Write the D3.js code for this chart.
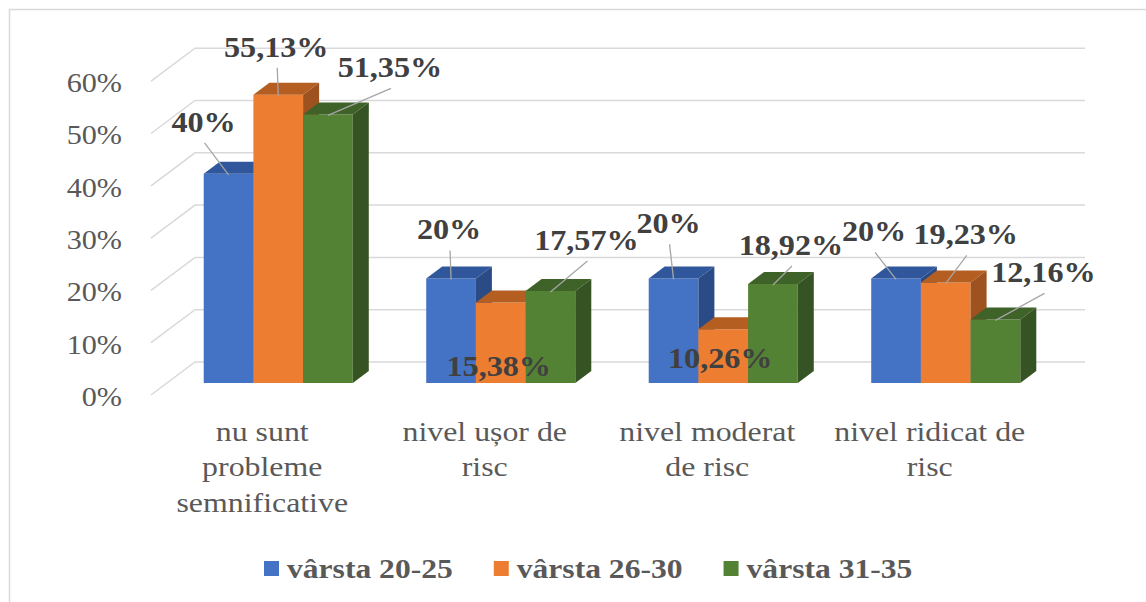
<!DOCTYPE html>
<html>
<head>
<meta charset="utf-8">
<script src="https://cdn.jsdelivr.net/npm/d3@7"></script>
<style>
  body { margin: 0; background: #fff; }
</style>
</head>
<body>
<script>
// chart data
var categories = ["nu sunt\nprobleme\nsemnificative", "nivel ușor de\nrisc", "nivel moderat\nde risc", "nivel ridicat de\nrisc"];
var seriesNames = ["vârsta 20-25", "vârsta 26-30", "vârsta 31-35"];
var values2025 = [40, 20, 20, 20];
var values2630 = [55.13, 15.38, 10.26, 19.23];
var values3135 = [51.35, 17.57, 18.92, 12.16];
var yTicks = [0, 10, 20, 30, 40, 50, 60];

var seriesValues = [values2025, values2630, values3135];
var colors = [
    {front: "#4472C4", top: "#30579B", side: "#2A4B86"},
    {front: "#ED7D31", top: "#B55E22", side: "#9D521F"},
    {front: "#548235", top: "#3F6229", side: "#365423"}
];

// where each data label sits, relative to the bar's front top edge (dx, dy to baseline), and if it has a leader
var labelOffsets = [
    [[-25, -42, 1], [-2, -39, 1], [-5, -45, 1], [-22, -37, 1]],
    [[-2, -38, 1], [-2, 73, 0], [-3, 39, 0], [20, -38, 1]],
    [[62, -37, 1], [36, -41, 1], [18, -29, 1], [48, -37, 1]]
];

var W = 1146, H = 602;
var FONT = "Liberation Serif";
var DX = 44, DY = 33;          // full floor depth, front -> back wall
var zFront = 12 / 33, zBack = zFront + 16 / 44;

var svg = d3.select("body").append("svg")
    .attr("width", W).attr("height", H)
    .attr("font-family", FONT)
    .style("display", "block");

svg.append("rect")
    .attr("x", 9.5).attr("y", 9.5)
    .attr("width", W + 20).attr("height", H + 20)
    .attr("fill", "none").attr("stroke", "#d9d9d9").attr("stroke-width", 1.5);

var x0 = d3.scaleBand().domain(categories).range([151, 1041]).paddingInner(0.33).paddingOuter(0.165);
var x1 = d3.scaleBand().domain(seriesNames).range([0, x0.bandwidth()]);
var y = d3.scaleLinear().domain([0, 60]).range([395, 395 - 6 * 52.3]);

function P(x, v, z) {
    return [x + z * DX, y(v) - z * DY];
}
function poly(pts) {
    return "M" + pts.map(function (p) { return p[0] + "," + p[1]; }).join("L") + "Z";
}
function fmt(v) {
    return (v % 1 === 0 ? String(v) : v.toFixed(2).replace(".", ",")) + "%";
}

// grid lines: side wall diagonal + back wall
var left = x0.range()[0], right = x0.range()[1];
var grid = svg.append("g").attr("stroke", "#d9d9d9").attr("stroke-width", 1.5).attr("fill", "none");
yTicks.forEach(function (t) {
    var a = P(left, t, 0), b = P(left, t, 1), c = P(right, t, 1);
    grid.append("path").attr("d", "M" + a + "L" + b + "L" + c);
});

// y axis labels
var yAxis = svg.append("g")
    .attr("transform", "translate(122,2)")
    .call(d3.axisLeft(y).tickValues(yTicks).tickSize(0).tickPadding(0).tickFormat(function (d) { return d + "%"; }));
yAxis.attr("font-family", FONT).attr("font-size", 26);
yAxis.select(".domain").remove();
yAxis.selectAll("text")
    .attr("fill", "#595959")
    .style("font-family", FONT)
    .style("font-size", "26.5px")
    .attr("transform", "scale(1.14,1)");

// bars
var bars = svg.append("g");
categories.forEach(function (cat, ci) {
    seriesNames.forEach(function (s, si) {
        var v = seriesValues[si][ci];
        var bx = x0(cat) + x1(s), w = x1.bandwidth();
        var g = bars.append("g");
        g.append("path").attr("fill", colors[si].front)
            .attr("d", poly([P(bx, 0, zFront), P(bx + w, 0, zFront), P(bx + w, v, zFront), P(bx, v, zFront)]));
        g.append("path").attr("fill", colors[si].top)
            .attr("d", poly([P(bx, v, zFront), P(bx + w, v, zFront), P(bx + w, v, zBack), P(bx, v, zBack)]));
        g.append("path").attr("fill", colors[si].side)
            .attr("d", poly([P(bx + w, 0, zFront), P(bx + w, v, zFront), P(bx + w, v, zBack), P(bx + w, 0, zBack)]));
    });
});

// category labels
categories.forEach(function (cat) {
    var cx = x0(cat) + x0.bandwidth() / 2;
    var t = svg.append("text")
        .attr("transform", "translate(" + cx + ",441) scale(1.18,1)")
        .attr("text-anchor", "middle")
        .attr("fill", "#595959")
        .style("font-family", FONT)
        .style("font-size", "27px");
    cat.split("\n").forEach(function (line, i) {
        t.append("tspan").attr("x", 0).attr("dy", i === 0 ? 0 : 35.5).text(line);
    });
});

// data labels + leader lines
var labels = svg.append("g");
categories.forEach(function (cat, ci) {
    seriesNames.forEach(function (s, si) {
        var v = seriesValues[si][ci];
        var p = P(x0(cat) + x1(s) + x1.bandwidth() / 2, v, zFront);
        var o = labelOffsets[si][ci];
        var lx = p[0] + o[0], ly = p[1] + o[1];
        if (o[2]) {
            labels.append("line")
                .attr("x1", lx + 1).attr("y1", ly + 11)
                .attr("x2", p[0]).attr("y2", p[1] + 1)
                .attr("stroke", "#a6a6a6").attr("stroke-width", 1.3);
        }
        labels.append("text")
            .attr("transform", "translate(" + lx + "," + ly + ") scale(1.11,1)")
            .attr("text-anchor", "middle")
            .attr("fill", "#404040")
            .style("font-family", FONT)
            .style("font-size", "29px")
            .style("font-weight", "bold")
            .text(fmt(v));
    });
});

// legend
var legend = svg.append("g");
var lx = 264;
seriesNames.forEach(function (s, si) {
    legend.append("rect")
        .attr("x", lx).attr("y", 561)
        .attr("width", 15).attr("height", 15)
        .attr("fill", colors[si].front);
    var t = legend.append("text")
        .attr("transform", "translate(" + (lx + 23) + ",578) scale(1.17,1)")
        .attr("fill", "#595959")
        .style("font-family", FONT)
        .style("font-size", "27px")
        .style("font-weight", "bold")
        .text(s);
    lx += 23 + t.node().getComputedTextLength() * 1.17 + 41;
});
</script>
</body>
</html>
